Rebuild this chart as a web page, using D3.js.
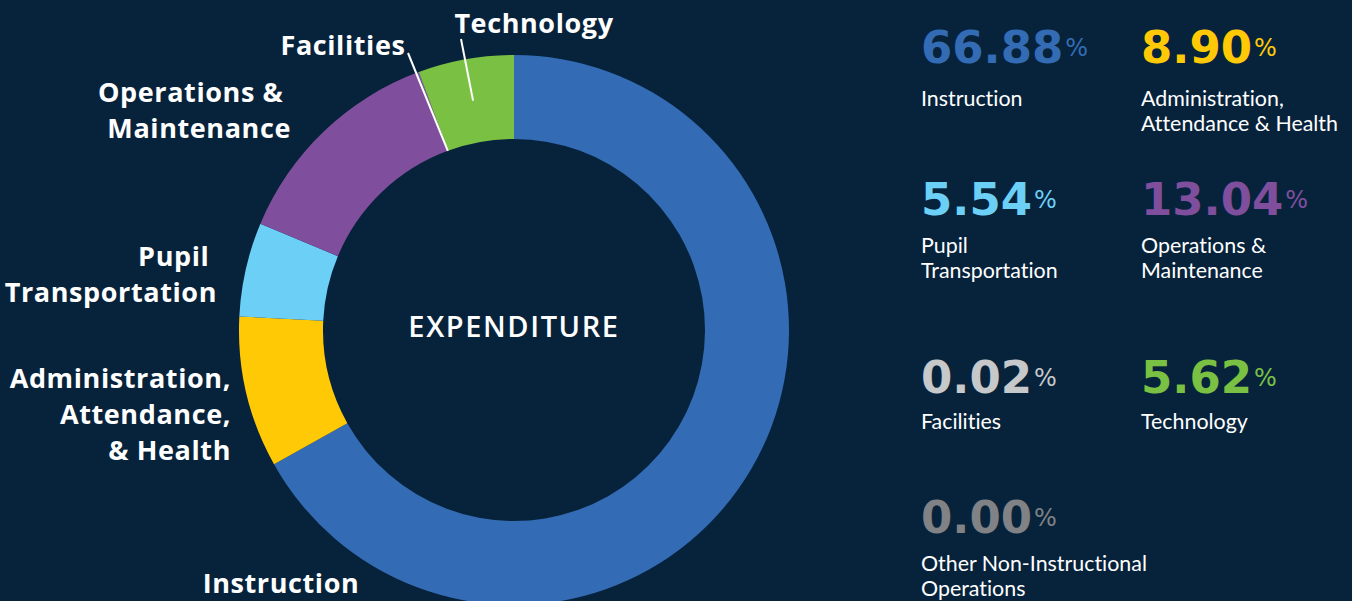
<!DOCTYPE html>
<html>
<head>
<meta charset="utf-8">
<script src="https://cdn.jsdelivr.net/npm/d3@7"></script>
<style>
  html, body { margin: 0; padding: 0; background: #07233c; }
  svg { display: block; }
  text { font-variant-ligatures: none; }
</style>
</head>
<body>
<svg id="chart"></svg>
<script>
// Expenditure shares, clockwise from 12 o'clock
var categories = ["Instruction", "Administration, Attendance & Health", "Pupil Transportation",
                  "Operations & Maintenance", "Facilities", "Technology"];
var shares = [66.88, 8.90, 5.54, 13.04, 0.02, 5.62];
var colors = ["#336cb5", "#ffca05", "#6ccff6", "#7f4f9e", "#c7c8ca", "#7ac143"];

// Right-hand summary boxes
var statValues = [66.88, 8.90, 5.54, 13.04, 0.02, 5.62, 0.00];
var statLabels = [["Instruction"], ["Administration,", "Attendance & Health"],
                  ["Pupil", "Transportation"], ["Operations &", "Maintenance"],
                  ["Facilities"], ["Technology"], ["Other Non-Instructional", "Operations"]];
var statColors = ["#336cb5", "#ffca05", "#6ccff6", "#7f4f9e", "#c7c8ca", "#7ac143", "#808285"];

var width = 1352, height = 601;
var cx = 514, cy = 330, outerR = 275, innerR = 191;

var svg = d3.select("#chart")
    .attr("width", width)
    .attr("height", height);

svg.append("rect")
    .attr("width", width)
    .attr("height", height)
    .attr("fill", "#07233c");

var pie = d3.pie().sort(null).value(function(d) { return d; });
var arcs = pie(shares);
var arc = d3.arc().innerRadius(innerR).outerRadius(outerR);

var donut = svg.append("g")
    .attr("transform", "translate(" + cx + "," + cy + ")");

donut.selectAll("path")
    .data(arcs)
    .enter()
    .append("path")
    .attr("d", arc)
    .attr("fill", function(d, i) { return colors[i]; });

donut.append("text")
    .attr("text-anchor", "middle")
    .attr("x", 0)
    .attr("y", 7)
    .attr("fill", "#ffffff")
    .style("font-family", "'Open Sans', sans-serif")
    .style("font-weight", 600)
    .style("font-size", "29px")
    .style("letter-spacing", "1.6px")
    .text("EXPENDITURE");

// Slice labels (placement by hand, like the print layout)
var labelFont = "'Open Sans', sans-serif";
var sliceLabels = [
  {i: 0, lines: ["Instruction"], x: 281, y: 593, anchor: "middle"},
  {i: 1, lines: ["Administration,", "Attendance,", "& Health"], x: 231, y: 388, anchor: "end"},
  {i: 2, lines: ["Pupil\u00a0", "Transportation"], x: 217, y: 266, anchor: "end"},
  {i: 3, lines: ["Operations &\u00a0", "Maintenance"], x: 291, y: 102, anchor: "end"},
  {i: 4, lines: ["Facilities"], x: 343, y: 55, anchor: "middle"},
  {i: 5, lines: ["Technology"], x: 534, y: 33, anchor: "middle"}
];

sliceLabels.forEach(function(l) {
  var t = svg.append("text")
      .attr("text-anchor", l.anchor)
      .attr("fill", "#ffffff")
      .style("font-family", labelFont)
      .style("font-weight", 700)
      .style("font-size", "27px")
      .style("letter-spacing", "0.6px");
  l.lines.forEach(function(line, k) {
    t.append("tspan")
        .attr("x", l.x)
        .attr("y", l.y + k * 36)
        .text(line);
  });
});

// Leader lines for the two thin slices
var facil = arcs[4], tech = arcs[5];
var leaders = [
  {from: [408, 53], to: d3.arc().innerRadius(innerR).outerRadius(innerR).centroid(facil)},
  {from: [461, 39], to: arc.centroid(tech)}
];
leaders.forEach(function(l) {
  svg.append("line")
      .attr("x1", l.from[0]).attr("y1", l.from[1])
      .attr("x2", cx + l.to[0]).attr("y2", cy + l.to[1])
      .attr("stroke", "#ffffff")
      .attr("stroke-width", 2);
});

// Stats grid on the right
var colX = [921, 1141];
var rowBase = [63, 215, 393, 533];
var labelBase = [106, 253, 429, 571];
var statPos = [[0, 0], [1, 0], [0, 1], [1, 1], [0, 2], [1, 2], [0, 3]];

statValues.forEach(function(v, i) {
  var x = colX[statPos[i][0]], row = statPos[i][1], y = rowBase[row];
  var num = svg.append("text")
      .attr("x", x)
      .attr("y", y)
      .attr("fill", statColors[i])
      .style("font-family", "'DejaVu Sans', sans-serif")
      .style("font-weight", 900)
      .style("font-size", "45px")
      .text(v.toFixed(2));
  var w = num.node().getComputedTextLength();
  svg.append("text")
      .attr("x", x + w + 2)
      .attr("y", y - 7)
      .attr("fill", statColors[i])
      .style("font-family", "'DejaVu Sans', sans-serif")
      .style("font-weight", 400)
      .style("font-size", "24px")
      .text("%");
  var lab = svg.append("text")
      .attr("fill", "#ffffff")
      .style("font-family", "Lato, sans-serif")
      .style("font-size", "21.4px");
  statLabels[i].forEach(function(line, k) {
    lab.append("tspan")
        .attr("x", x)
        .attr("y", labelBase[row] + k * 25)
        .text(line);
  });
});
</script>
</body>
</html>
